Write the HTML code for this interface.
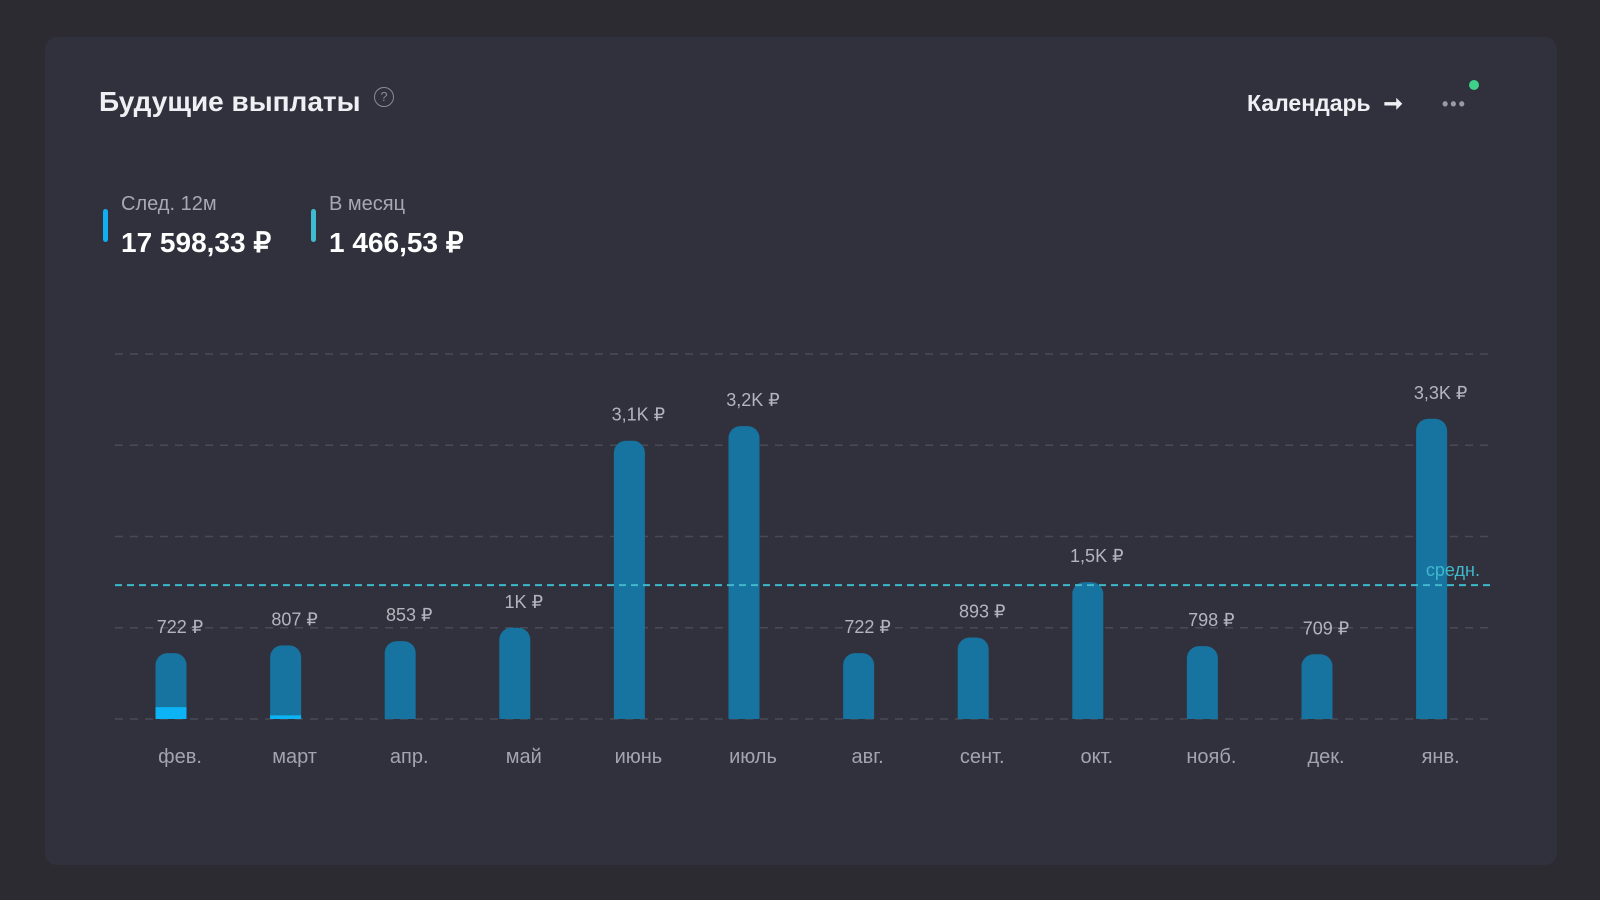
<!DOCTYPE html>
<html><head><meta charset="utf-8"><style>
body{margin:0;width:1600px;height:900px;background:#2b2b31;font-family:"Liberation Sans",sans-serif;overflow:hidden;position:relative}
.card{position:absolute;left:45px;top:37px;width:1512px;height:828px;background:#31313d;border-radius:12px}
.t{position:absolute;white-space:nowrap}
</style></head><body>
<div class="card"></div>
<div class="t" style="left:99px;top:86px;font-size:28px;font-weight:bold;color:#f0f0f4">Будущие выплаты</div>
<div class="t" style="left:374px;top:87px;width:18px;height:18px;border:1.5px solid #8a8a96;border-radius:50%;color:#8a8a96;font-size:13px;text-align:center;line-height:18px">?</div>
<div class="t" style="left:1247px;top:90px;font-size:23px;font-weight:bold;color:#f0f0f4">Календарь&nbsp; ➞</div>
<div class="t" style="left:1442px;top:94px;font-size:18px;color:#9a9aa6;letter-spacing:2px;font-weight:bold">•••</div>
<div class="t" style="left:1469px;top:80px;width:10px;height:10px;border-radius:50%;background:#3fd08a"></div>
<div class="t" style="left:103px;top:209px;width:5px;height:33px;border-radius:3px;background:#11aef0"></div>
<div class="t" style="left:121px;top:193px;font-size:20px;color:#a8a8b4">След. 12м</div>
<div class="t" style="left:121px;top:226px;font-size:28px;font-weight:bold;color:#fff">17 598,33 ₽</div>
<div class="t" style="left:311px;top:209px;width:5px;height:33px;border-radius:3px;background:#3fbcd0"></div>
<div class="t" style="left:329px;top:193px;font-size:20px;color:#a8a8b4">В месяц</div>
<div class="t" style="left:329px;top:226px;font-size:28px;font-weight:bold;color:#fff">1 466,53 ₽</div>
<svg id="c" width="1600" height="900" style="position:absolute;left:0;top:0"></svg>
<script>
const months=["фев.","март","апр.","май","июнь","июль","авг.","сент.","окт.","нояб.","дек.","янв."];
const values=[722,807,853,1000,3050,3210,722,893,1500,798,709,3290];
const received=[130,40,0,0,0,0,0,0,0,0,0,0];
const valueLabels=["722 ₽","807 ₽","853 ₽","1K ₽","3,1K ₽","3,2K ₽","722 ₽","893 ₽","1,5K ₽","798 ₽","709 ₽","3,3K ₽"];
const gridTicks=[0,1000,2000,3000,4000];
const average=1466.53;
const svg=document.getElementById('c');const NS="http://www.w3.org/2000/svg";
const y=v=>719-v*365/4000;
const x=i=>180+i*114.6;
function mk(t,a,txt){const e=document.createElementNS(NS,t);for(const k in a)e.setAttribute(k,a[k]);if(txt)e.textContent=txt;svg.appendChild(e);return e;}
gridTicks.forEach(g=>{const l=mk('line',{x1:115,x2:1490,y1:y(g),y2:y(g),stroke:'#4a4a56','stroke-width':1.5,'stroke-dasharray':'8 7'});

});
values.forEach((v,i)=>{const cx=x(i)-9,w=31,top=y(v);
const b=mk('path',{d:`M${cx-w/2},719 V${top+12} a12,12 0 0 1 12,-12 h${w-24} a12,12 0 0 1 12,12 V719 Z`,fill:'#17739f'});


if(received[i]>0){const r=mk('rect',{x:cx-w/2,y:y(received[i]),width:w,height:719-y(received[i]),fill:'#0cb3f5'});

}
const vl=mk('text',{x:x(i),y:top-20,'text-anchor':'middle','font-size':18,fill:'#b4b4bf','font-family':'Liberation Sans'},valueLabels[i]);


const ml=mk('text',{x:x(i),y:763,'text-anchor':'middle','font-size':20,fill:'#a4a4b0','font-family':'Liberation Sans'},months[i]);

});
const al=mk('line',{x1:115,x2:1490,y1:y(average),y2:y(average),stroke:'#3fb8cc','stroke-width':2,'stroke-dasharray':'7 5'});


const at=mk('text',{x:1480,y:y(average)-9,'text-anchor':'end','font-size':18,fill:'#3fb8cc','font-family':'Liberation Sans'},'средн.');


</script>
</body></html>
